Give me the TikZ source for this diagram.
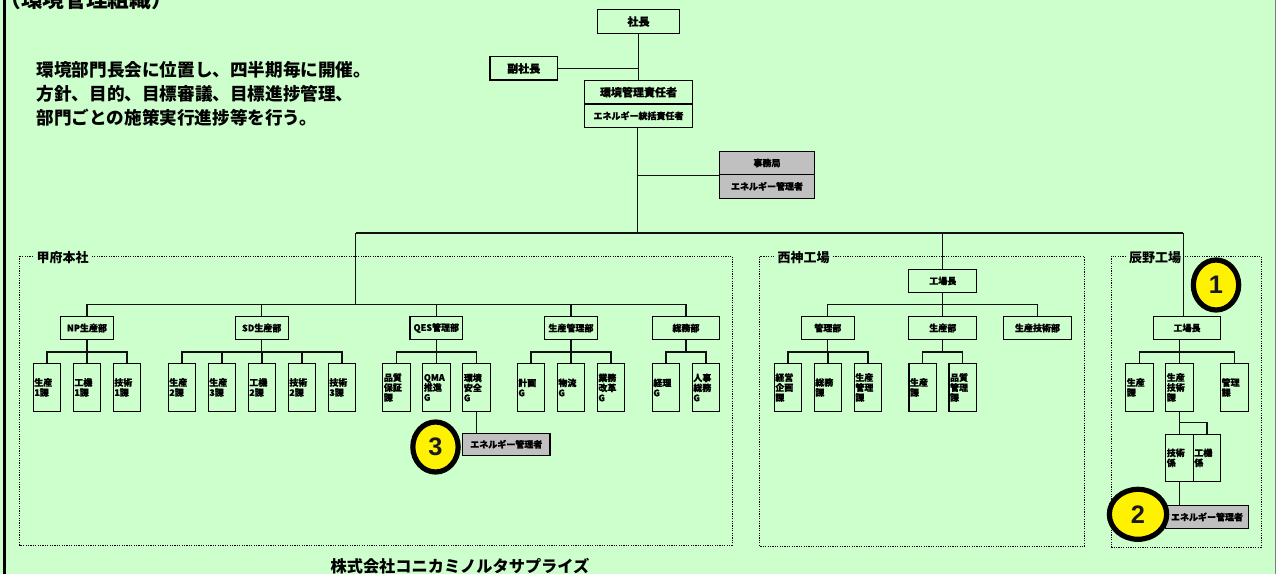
\documentclass[tikz,border=0pt]{standalone}
\usepackage{fontspec}
\usetikzlibrary{shapes.geometric}
\setmainfont{Noto Sans CJK JP}
\newfontfamily\heavy{Noto Sans CJK JP}[BoldFeatures={FakeBold=0.8}]
\newfontfamily\numfont{Liberation Sans}
\definecolor{bgc}{HTML}{CCFFCC}
\definecolor{grayc}{HTML}{C0C0C0}
\definecolor{dgc}{HTML}{111111}
\tikzset{
 x=0.75pt,y=-0.75pt,
 conn/.style={draw=dgc,line width=0.8pt},
 sbox/.style={draw=black,line width=0.8pt,inner sep=0pt,font=\heavy\bfseries\fontsize{6.75}{7.5}\selectfont,align=center},
 dept/.style={sbox,minimum height=17.6pt},
 bigbox/.style={sbox,font=\heavy\bfseries\fontsize{8.25}{9}\selectfont},
 sect/.style={sbox,minimum height=35.5pt,text width=19pt,align=left,inner xsep=0.75pt},
 graybox/.style={sbox,fill=grayc},
 frame/.style={draw=black,line width=0.75pt,dash pattern=on 0.9pt off 0.9pt},
 flabel/.style={fill=bgc,inner sep=2.5pt,font=\bfseries\fontsize{9.75}{10}\selectfont},
 note/.style={anchor=west,inner sep=0pt,font=\bfseries\fontsize{13.2}{14}\selectfont},
 numb/.style={ellipse,draw=black,fill=yellow,line width=3.9pt,inner sep=0pt,font=\numfont\bfseries\fontsize{19}{20}\selectfont,text=black!90},
}
\newcommand\tree[3]{\foreach \c in {#3}{\draw[conn] (#1.south) -- (#1.south |- #2) -| (\c.north);}}
\newcommand\secbox[3]{\node[sect,minimum width=20.6pt] (#1) at (#2,387.5) {#3};}
\begin{document}
\begin{tikzpicture}
\useasboundingbox (0,0) rectangle (1276,574);
\clip (0,0) rectangle (1276,574);
\fill[bgc] (0,0) rectangle (1276,574);
\fill[black] (3,0) rectangle (6,574);
\fill[gray] (1275,0) rectangle (1276,574);
\coordinate (busA) at (0,352);
\coordinate (busD) at (0,304.7);
\coordinate (busT) at (0,233);
% frames
\draw[frame] (19.5,256) rectangle (732,545);
\draw[frame] (759.5,256.5) rectangle (1084.5,546);
\draw[frame] (1111.7,256) rectangle (1261,547);
\node[flabel] (lkofu) at (62.5,258) {甲府本社};
\node[flabel] (lnishi) at (803.5,258) {西神工場};
\node[flabel] (ltatsu) at (1155,258) {辰野工場};
% texts
\node[anchor=west,inner sep=0pt,font=\bfseries\fontsize{16.3}{17}\selectfont] (title) at (-1,-0.5) {（環境管理組織）};
\node[note] (n1) at (36.5,70) {環境部門長会に位置し、四半期毎に開催。};
\node[note] (n2) at (36.5,94) {方針、目的、目標審議、目標進捗管理、};
\node[note] (n3) at (36.5,117.5) {部門ごとの施策実行進捗等を行う。};
\node[anchor=center,inner sep=0pt,font=\bfseries\fontsize{12.15}{13}\selectfont] (corp) at (460,566.5) {株式会社コニカミノルタサプライズ};
% top
\node[bigbox,minimum width=61.8pt,minimum height=18pt] (pres) at (638.5,21.5) {社長};
\node[bigbox,minimum width=50.6pt,minimum height=17.3pt] (vice) at (523.7,68.5) {副社長};
\node[bigbox,minimum width=80.7pt,minimum height=17.6pt] (env) at (638.5,92.2) {環境管理責任者};
\node[sbox,minimum width=80.7pt,minimum height=17.6pt] (ene) at (638.5,115.8) {エネルギー統括責任者};
\node[graybox,minimum width=71.2pt,minimum height=17.3pt] (jim) at (767,163) {事務局};
\node[graybox,minimum width=71.2pt,minimum height=17.6pt] (jim2) at (767,186.3) {エネルギー管理者};
\draw[conn] (pres.south) -- (env.north);
\draw[conn] (vice.east) -- (vice.east -| pres.south);
\coordinate (trk) at (637.5,233);
\draw[conn] (ene.south -| trk) -- (trk);
\draw[conn] (jim.south west) -- (jim.south west -| trk);
% departments
\node[dept,minimum width=40pt] (dnp) at (87,328) {NP生産部};
\node[dept,minimum width=40pt] (dsd) at (261.7,328) {SD生産部};
\node[dept,minimum width=39.5pt] (dqes) at (436.3,328) {QES管理部};
\node[dept,minimum width=40pt] (dpro) at (571,328) {生産管理部};
\node[dept,minimum width=50.5pt] (dsom) at (686,328) {総務部};
\secbox{a1}{47}{生産\\1課}\secbox{a2}{87}{工機\\1課}\secbox{a3}{127}{技術\\1課}
\secbox{b1}{182}{生産\\2課}\secbox{b2}{222}{生産\\3課}\secbox{b3}{262}{工機\\2課}\secbox{b4}{302}{技術\\2課}\secbox{b5}{342}{技術\\3課}
\secbox{c1}{396.5}{品質\\保証\\課}\secbox{c2}{436.5}{QMA\\推進\\G}\secbox{c3}{476.5}{環境\\安全\\G}
\secbox{d1}{531}{計画\\G}\secbox{d2}{571}{物流\\G}\secbox{d3}{611}{業務\\改革\\G}
\secbox{e1}{666}{経理\\G}\secbox{e2}{706}{人事\\総務\\G}
\tree{dnp}{busA}{a1,a2,a3}
\tree{dsd}{busA}{b1,b2,b3,b4,b5}
\tree{dqes}{busA}{c1,c2,c3}
\tree{dpro}{busA}{d1,d2,d3}
\tree{dsom}{busA}{e1,e2}
\node[graybox,minimum width=65.5pt,minimum height=16.5pt] (qene) at (506.3,444.3) {エネルギー管理者};
\draw[conn] (c3.south) -- (c3.south |- qene.north);
% head office bus
\draw[conn] (dnp.north) -- (dnp.north |- busD) -- (dsom.north |- busD) -- (dsom.north);
\foreach \c in {dsd,dqes,dpro}{\draw[conn] (\c.north) -- (\c.north |- busD);}
\coordinate (hq) at (355.5,304.7);
\draw[conn] (hq) -- (hq |- busT);
% Nishi
\node[dept,minimum width=50.8pt] (nkoj) at (942.8,281) {工場長};
\node[dept,minimum width=39.7pt] (nk) at (827.8,328) {管理部};
\node[dept,minimum width=50.8pt] (ns) at (942.8,328) {生産部};
\node[dept,minimum width=51.3pt] (ng) at (1037.5,328) {生産技術部};
\secbox{f1}{788}{経営\\企画\\課}\secbox{f2}{828}{総務\\課}\secbox{f3}{868}{生産\\管理\\課}
\secbox{g1}{922.7}{生産\\課}\secbox{g2}{962.7}{品質\\管理\\課}
\tree{nk}{busA}{f1,f2,f3}
\tree{ns}{busA}{g1,g2}
\draw[conn] (nk.north) -- (nk.north |- busD) -- (ng.north |- busD) -- (ng.north);
\draw[conn] (nkoj.south) -- (ns.north);
% Tatsuno
\node[dept,minimum width=50.6pt] (tkoj) at (1187,328) {工場長};
\secbox{h1}{1139.5}{生産\\課}\secbox{h2}{1179.5}{生産\\技術\\課}\secbox{h3}{1234.3}{管理\\課}
\node[sect,minimum width=20.6pt] (i1) at (1179.5,457.8) {技術\\係};
\node[sect,minimum width=20.6pt] (i2) at (1207,457.8) {工機\\係};
\node[graybox,minimum width=62pt,minimum height=17.5pt] (tene) at (1207,517) {エネルギー管理者};
\draw[conn] (h1.north) -- (h1.north |- busA) -- (h3.north |- busA) -- (h3.north);
\draw[conn] (h2.north) -- (h2.north |- tkoj.south);
\draw[conn] (h2.south) -- (i1.north);
\coordinate (tb) at (0,422.7);
\draw[conn] (h2.south |- tb) -| (i2.north);
\draw[conn] (i1.south) -- (i1.south |- tene.north);
% trunks
\coordinate (nt) at (942.8,233);
\coordinate (tt) at (1183.3,233);
\draw[conn] (nkoj.north -| nt) -- (nt);
\draw[conn] (tkoj.north -| tt) -- (tt);
\draw[conn] (hq |- busT) -- (tt);
% numbers
\node[numb,minimum width=34pt,minimum height=37.5pt] (m1) at (1216,285) {1};
\node[numb,minimum width=43pt,minimum height=37.5pt] (m2) at (1138,514.3) {2};
\node[numb,minimum width=34pt,minimum height=37.5pt] (m3) at (435.5,447) {3};
\end{tikzpicture}
\end{document}
